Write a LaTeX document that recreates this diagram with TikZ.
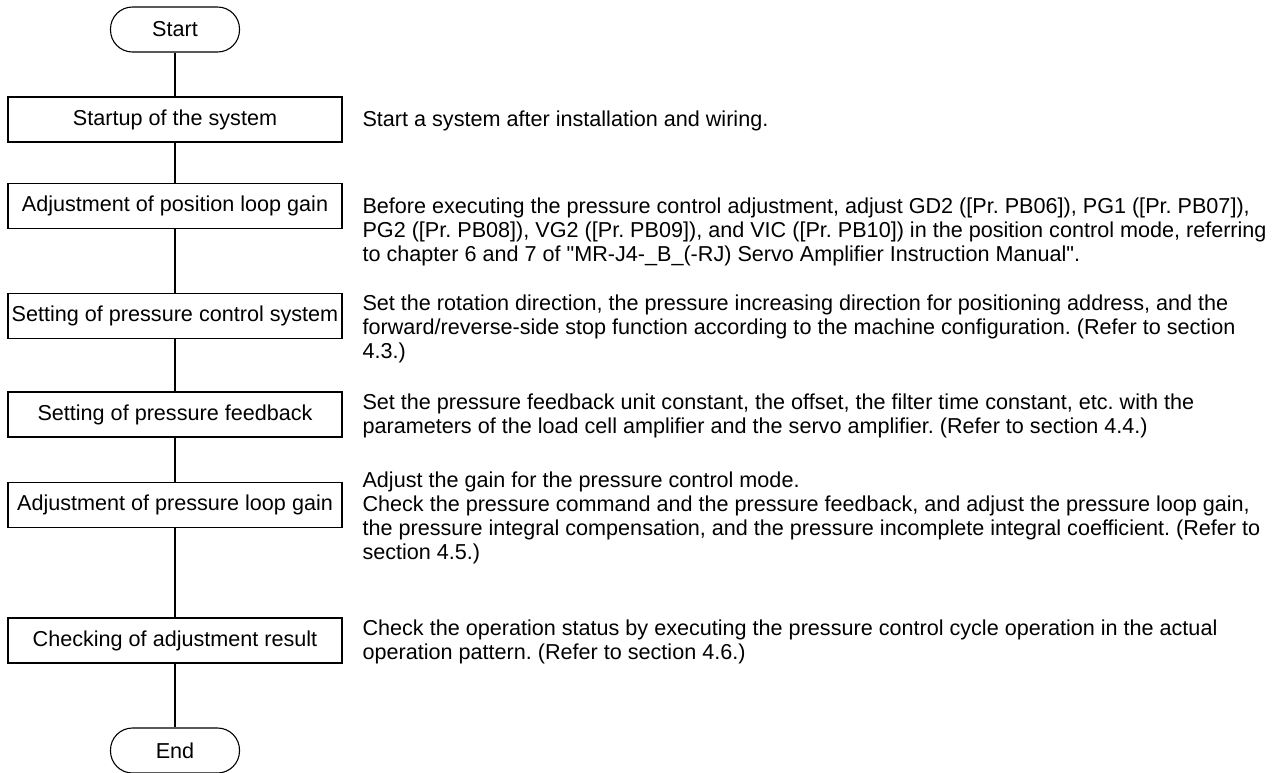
\documentclass[tikz,border=0pt]{standalone}
\usepackage{fontspec}
\setmainfont{Liberation Sans}
% same face without the TeX quote mapping, for straight double quotes
\newfontfamily{\straightqfont}{Liberation Sans}
\newcommand{\flowfont}{\fontsize{21.6}{24}\selectfont\frenchspacing}
\newcommand{\dq}{{\straightqfont\char34}}
\begin{document}
\begin{tikzpicture}[x=1pt,y=-1pt,
  line width=1.1pt,
  flowbox/.style={draw, rectangle, minimum width=334pt, minimum height=45pt,
    inner sep=0pt, font=\flowfont},
  terminal/.style={draw, rectangle, rounded corners=22pt, minimum width=129pt,
    minimum height=45pt, inner sep=0pt, font=\flowfont},
  desc/.style={anchor=north west, align=left, inner sep=0pt, font=\flowfont}]
\useasboundingbox (0,0) rectangle (1285,772);

% flow column
\node[terminal] (start) at (175,29.5) {Start};
\node[flowbox] (b1) at (175,119.5) {Startup of the system};
\node[flowbox] (b2) at (175,206) {Adjustment of position loop gain};
\node[flowbox] (b3) at (175,316) {Setting of pressure control system};
\node[flowbox] (b4) at (175,414.5) {Setting of pressure feedback};
\node[flowbox] (b5) at (175,505) {Adjustment of pressure loop gain};
\node[flowbox] (b6) at (175,640.5) {Checking of adjustment result};
\node[terminal] (end) at (175,750.5) {End};

\draw (start) -- (b1);
\draw (b1) -- (b2);
\draw (b2) -- (b3);
\draw (b3) -- (b4);
\draw (b4) -- (b5);
\draw (b5) -- (b6);
\draw (b6) -- (end);

% explanations beside each step
\node[desc] (d1) at (362,109) {\strut Start a system after installation and wiring.};
\node[desc] (d2) at (362,196) {\strut Before executing the pressure control adjustment, adjust GD2 ([Pr. PB06]), PG1 ([Pr. PB07]),\\
PG2 ([Pr. PB08]), VG2 ([Pr. PB09]), and VIC ([Pr. PB10]) in the position control mode, referring\\
to chapter 6 and 7 of \dq MR-J4-\_B\_(-RJ) Servo Amplifier Instruction Manual\dq.};
\node[desc] (d3) at (362,293.5) {\strut Set the rotation direction, the pressure increasing direction for positioning address, and the\\
forward/reverse-side stop function according to the machine configuration. (Refer to section\\
4.3.)};
\node[desc] (d4) at (362,392) {\strut Set the pressure feedback unit constant, the offset, the filter time constant, etc. with the\\
parameters of the load cell amplifier and the servo amplifier. (Refer to section 4.4.)};
\node[desc] (d5) at (362,470) {\strut Adjust the gain for the pressure control mode.\\
Check the pressure command and the pressure feedback, and adjust the pressure loop gain,\\
the pressure integral compensation, and the pressure incomplete integral coefficient. (Refer to\\
section 4.5.)};
\node[desc] (d6) at (362,618) {\strut Check the operation status by executing the pressure control cycle operation in the actual\\
operation pattern. (Refer to section 4.6.)};
\end{tikzpicture}
\end{document}
